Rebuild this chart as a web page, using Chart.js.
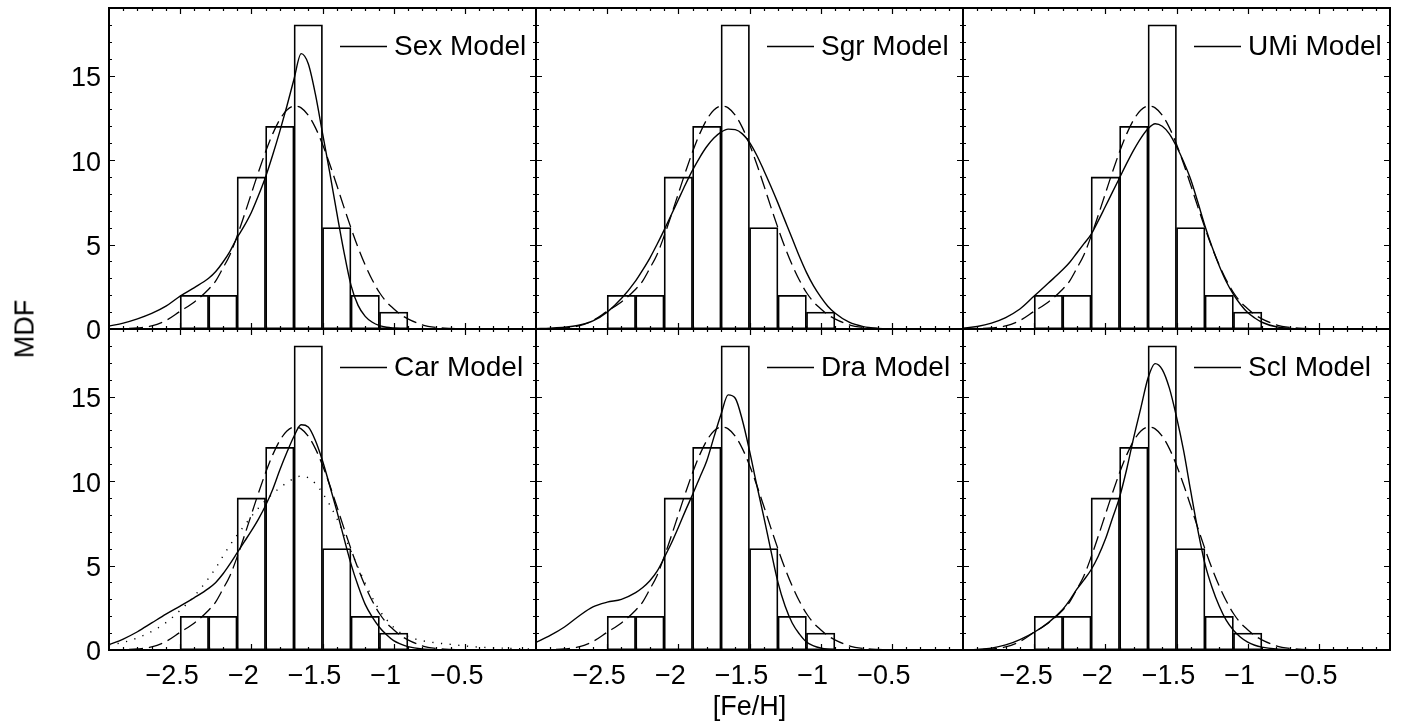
<!DOCTYPE html>
<html>
<head>
<meta charset="utf-8">
<script src="https://cdn.jsdelivr.net/npm/chart.js@4.4.1/dist/chart.umd.min.js"></script>
<style>
  html, body { margin: 0; padding: 0; background: #fff; }
  #wrap { position: relative; width: 1403px; height: 721px; overflow: hidden; }
  #wrap canvas { position: absolute; left: 0; top: 0; }
  #mdf {
    position: absolute; left: 25px; top: 329px;
    transform: translate(-50%, -50%) rotate(-90deg);
    font: 27px 'Liberation Sans', Arial, Helvetica, sans-serif;
    white-space: nowrap; color: #000;
  }
</style>
</head>
<body>
<div id="wrap">
  <canvas id="p0" width="1403" height="721"></canvas>
  <canvas id="p1" width="1403" height="721"></canvas>
  <canvas id="p2" width="1403" height="721"></canvas>
  <canvas id="p3" width="1403" height="721"></canvas>
  <canvas id="p4" width="1403" height="721"></canvas>
  <canvas id="p5" width="1403" height="721"></canvas>
  <div id="mdf">MDF</div>
</div>
<script>
var FONT = "'Liberation Sans', Arial, Helvetica, sans-serif";

// [Fe/H] sample points shared by all curves
var feh = [-3.0, -2.9, -2.8, -2.7, -2.6, -2.5, -2.4,
  -2.3, -2.25, -2.2, -2.15, -2.1, -2.05, -2.0, -1.95, -1.9, -1.85, -1.8, -1.75, -1.7, -1.65,
  -1.6, -1.55, -1.5, -1.45, -1.4, -1.35, -1.3, -1.25, -1.2, -1.15, -1.1, -1.05, -1.0, -0.95, -0.9,
  -0.8, -0.7, -0.6, -0.5, -0.4, -0.3, -0.2, -0.1, 0.0];

// observed histogram
var binCenters = [-2.4, -2.2, -2.0, -1.8, -1.6, -1.4, -1.2, -1.0];
var binCounts = [2, 2, 9, 12, 18, 6, 2, 1];

// dashed curve (same in every panel)
var obsFit = [0.0, 0.02, 0.06, 0.18, 0.5, 1.05, 1.6,
  2.35, 2.85, 3.6, 4.4, 5.5, 6.73, 8.01, 9.29, 10.49, 11.55, 12.4, 12.96, 13.19, 13.09,
  12.65, 11.92, 10.94, 9.78, 8.52, 7.23, 5.98, 4.82, 3.79, 2.9, 2.16, 1.6, 1.2, 0.85, 0.6,
  0.25, 0.09, 0.03, 0.01, 0, 0, 0, 0, 0];

var sexModel = [0.17, 0.35, 0.6, 0.92, 1.35, 1.95, 2.45,
  3.0, 3.4, 3.95, 4.6, 5.4, 6.1, 6.9, 7.9, 9.0, 10.3, 11.7, 13.2, 14.8, 16.3,
  15.7, 13.9, 11.6, 9.3, 6.9, 4.6, 2.6, 1.4, 0.75, 0.4, 0.2, 0.1, 0.05, 0.02, 0.01,
  0, 0, 0, 0, 0, 0, 0, 0, 0];

var sgrModel = [0.02, 0.05, 0.1, 0.22, 0.48, 1.0, 1.8,
  2.85, 3.5, 4.2, 5.0, 5.85, 6.75, 7.65, 8.55, 9.4, 10.15, 10.8, 11.3, 11.65, 11.83,
  11.8, 11.55, 11.05, 10.3, 9.4, 8.45, 7.45, 6.4, 5.35, 4.3, 3.35, 2.55, 1.9, 1.35, 0.95,
  0.4, 0.14, 0.04, 0.01, 0, 0, 0, 0, 0];

var umiModel = [0.05, 0.15, 0.35, 0.68, 1.18, 1.95, 2.72,
  3.5, 3.95, 4.5, 5.05, 5.6, 6.4, 7.25, 8.1, 8.95, 9.8, 10.6, 11.3, 11.85, 12.15,
  12.0, 11.55, 10.8, 9.9, 8.85, 7.5, 6.1, 4.85, 3.75, 2.8, 2.05, 1.45, 0.97, 0.65, 0.4,
  0.13, 0.03, 0.01, 0, 0, 0, 0, 0, 0];

var carModel = [0.32, 0.65, 1.08, 1.6, 2.12, 2.6, 3.1,
  3.65, 4.0, 4.5, 5.1, 5.75, 6.4, 7.05, 7.75, 8.55, 9.5, 10.65, 11.7, 12.65, 13.33,
  13.2, 12.4, 11.2, 9.75, 8.25, 6.65, 5.1, 3.8, 2.7, 1.95, 1.35, 0.9, 0.55, 0.35, 0.2,
  0.06, 0.02, 0.01, 0, 0, 0, 0, 0, 0];

var carDotted = [0.3, 0.45, 0.72, 1.1, 1.62, 2.35, 3.2,
  4.25, 4.85, 5.55, 6.2, 6.8, 7.35, 7.9, 8.4, 8.85, 9.25, 9.6, 9.9, 10.15, 10.3,
  10.2, 9.85, 9.3, 8.6, 7.8, 6.85, 5.85, 4.9, 3.95, 3.1, 2.35, 1.8, 1.35, 1.0, 0.8,
  0.55, 0.42, 0.33, 0.24, 0.17, 0.13, 0.1, 0.07, 0.05];

var draModel = [0.45, 0.86, 1.36, 2.0, 2.55, 2.83, 3.0,
  3.4, 3.7, 4.1, 4.65, 5.45, 6.3, 7.25, 8.25, 9.2, 10.2, 11.2, 12.6, 13.95, 15.1,
  14.9, 13.6, 11.8, 9.8, 7.9, 5.9, 4.0, 2.6, 1.6, 0.95, 0.47, 0.25, 0.12, 0.05, 0.02,
  0, 0, 0, 0, 0, 0, 0, 0, 0];

var sclModel = [0.01, 0.04, 0.11, 0.3, 0.62, 1.05, 1.62,
  2.4, 2.95, 3.6, 4.15, 4.75, 5.55, 6.55, 7.8, 9.05, 10.7, 12.6, 14.35, 16.1, 16.95,
  16.6, 15.5, 13.8, 11.8, 9.4, 7.1, 5.1, 3.7, 2.6, 1.75, 1.17, 0.75, 0.46, 0.28, 0.17,
  0.06, 0.02, 0.01, 0, 0, 0, 0, 0, 0];

var panelLabels = ['Sex Model', 'Sgr Model', 'UMi Model', 'Car Model', 'Dra Model', 'Scl Model'];
var panelModels = [sexModel, sgrModel, umiModel, carModel, draModel, sclModel];
var xTickValues = [-2.5, -2, -1.5, -1, -0.5];
var yTickValues = [0, 5, 10, 15];
var xTitle = '[Fe/H]';

// panel grid in page pixels
var plotLeft = 109, panelW = 427, plotTop = 8, panelH = 321;

function pts(arr) {
  return feh.map(function (x, i) { return { x: x, y: arr[i] }; });
}

function fmtTick(v) {
  return (v < 0 ? '\u2212' : '') + Math.abs(v);
}

// IDL style: box frame, inward ticks on all four sides, line legend
var idlFrame = {
  id: 'idlFrame',
  afterDatasetsDraw: function (chart) {
    var ctx = chart.ctx, a = chart.chartArea;
    var xs = chart.scales.x, ys = chart.scales.y;
    ctx.save();
    ctx.strokeStyle = '#000';
    ctx.lineWidth = 1.2;
    ctx.beginPath();
    for (var k = -29; k <= -1; k++) {
      var len = (k % 5 === 0) ? 6 : 3;
      var px = Math.round(xs.getPixelForValue(k / 10)) + 0.5;
      ctx.moveTo(px, a.bottom); ctx.lineTo(px, a.bottom - len);
      ctx.moveTo(px, a.top); ctx.lineTo(px, a.top + len);
    }
    for (var j = 1; j <= 18; j++) {
      var l2 = (j % 5 === 0) ? 6 : 3;
      var py = Math.round(ys.getPixelForValue(j)) + 0.5;
      ctx.moveTo(a.left, py); ctx.lineTo(a.left + l2, py);
      ctx.moveTo(a.right, py); ctx.lineTo(a.right - l2, py);
    }
    ctx.stroke();

    ctx.lineWidth = 2;
    ctx.strokeRect(a.left, a.top, a.right - a.left, a.bottom - a.top);

    // legend entry for the model curve
    var ly = a.top + 38.5;
    ctx.lineWidth = 1.4;
    ctx.beginPath();
    ctx.moveTo(a.right - 196, ly); ctx.lineTo(a.right - 149, ly);
    ctx.stroke();
    ctx.fillStyle = '#000';
    ctx.font = '28px ' + FONT;
    ctx.textAlign = 'left';
    ctx.textBaseline = 'middle';
    ctx.fillText(chart.data.datasets[0].label, a.right - 142, ly + 1);
    ctx.restore();
  }
};

for (var i = 0; i < 6; i++) {
  var col = i % 3, row = Math.floor(i / 3);
  var L = plotLeft + col * panelW, T = plotTop + row * panelH;
  var R = L + panelW, B = T + panelH;

  var datasets = [{
    type: 'line', label: panelLabels[i], data: pts(panelModels[i]),
    borderColor: '#000', borderWidth: 1.4, pointRadius: 0,
    cubicInterpolationMode: 'monotone'
  }];
  if (i === 3) {
    datasets.push({
      type: 'line', label: 'dotted', data: pts(carDotted),
      borderColor: '#000', borderWidth: 1.4, borderDash: [1.2, 7.5],
      pointRadius: 0, cubicInterpolationMode: 'monotone'
    });
  }
  datasets.push({
    type: 'line', label: 'fit', data: pts(obsFit),
    borderColor: '#000', borderWidth: 1.3, borderDash: [14, 6],
    pointRadius: 0, cubicInterpolationMode: 'monotone'
  });
  datasets.push({
    type: 'bar', label: 'MDF',
    data: binCenters.map(function (c, k) { return { x: c, y: binCounts[k] }; }),
    backgroundColor: 'rgba(0,0,0,0)', borderColor: '#000', borderWidth: 1.1,
    borderSkipped: false, barPercentage: 1, categoryPercentage: 1, grouped: false
  });

  new Chart(document.getElementById('p' + i), {
    type: 'bar',
    data: { datasets: datasets },
    options: {
      responsive: false,
      animation: false,
      devicePixelRatio: 1,
      events: [],
      layout: {
        padding: {
          left: col === 0 ? L - 100 : L,
          right: 1403 - R,
          top: T,
          bottom: row === 1 ? 721 - B - 71 : 721 - B
        }
      },
      plugins: { legend: { display: false }, tooltip: { enabled: false } },
      scales: {
        x: {
          type: 'linear', min: -3, max: 0, offset: false,
          display: row === 1,
          grid: { display: false, drawTicks: false },
          border: { display: false },
          ticks: {
            color: '#000', font: { family: FONT, size: 27 },
            padding: 10, labelOffset: -8, maxRotation: 0, autoSkip: false,
            callback: fmtTick
          },
          title: {
            display: i === 4, text: xTitle, color: '#000',
            font: { family: FONT, size: 27, lineHeight: 1 }, padding: 0
          },
          afterBuildTicks: function (s) {
            s.ticks = xTickValues.map(function (v) { return { value: v }; });
          },
          afterFit: function (s) {
            s.height = s.options.display ? 71 : 0;
            s.paddingLeft = 0; s.paddingRight = 0;
          }
        },
        y: {
          type: 'linear', min: 0, max: 19,
          display: col === 0,
          grid: { display: false, drawTicks: false },
          border: { display: false },
          ticks: {
            color: '#000', font: { family: FONT, size: 27 },
            padding: 8, labelOffset: 3, autoSkip: false
          },
          afterBuildTicks: function (s) {
            s.ticks = yTickValues.map(function (v) { return { value: v }; });
          },
          afterFit: function (s) {
            s.width = s.options.display ? 100 : 0;
            s.paddingTop = 0; s.paddingBottom = 0;
          }
        }
      }
    },
    plugins: [idlFrame]
  });
}
</script>
</body>
</html>
